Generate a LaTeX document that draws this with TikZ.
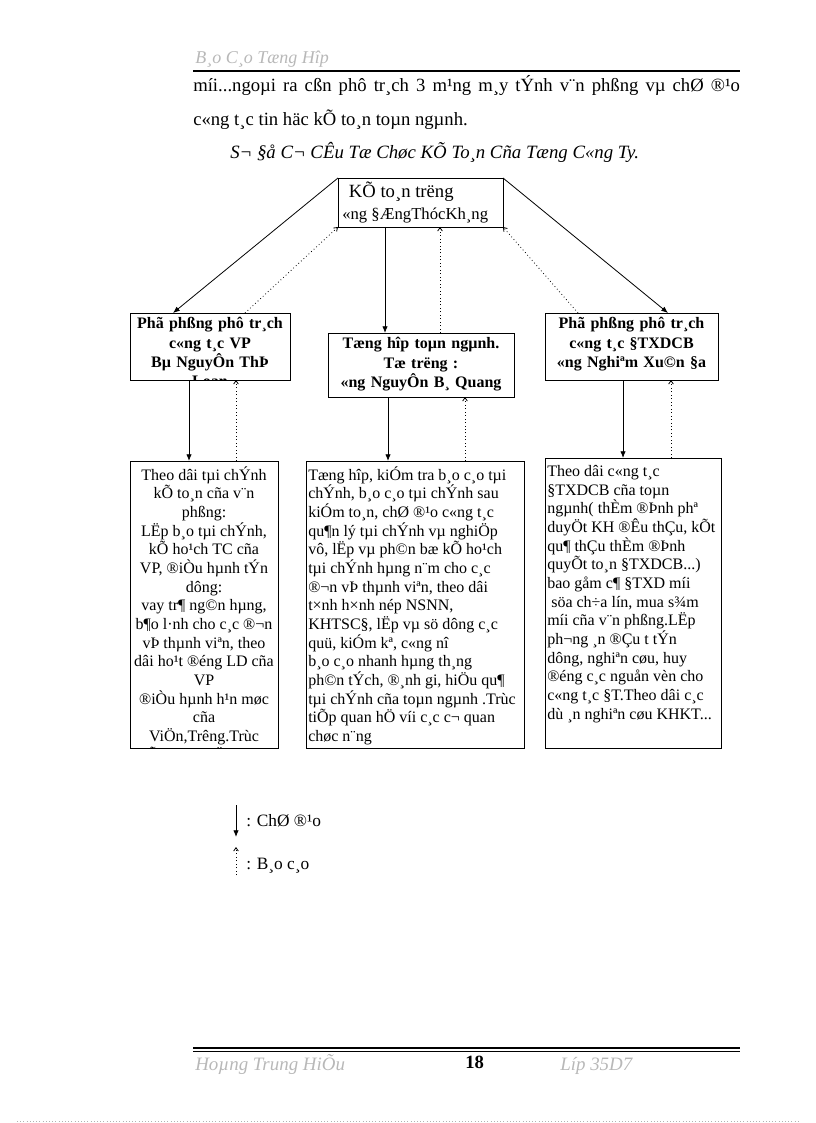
\documentclass[tikz,border=0pt]{standalone}
\usepackage{fontspec}
\setmainfont{Liberation Serif}
\usetikzlibrary{arrows.meta,calc}
\tikzset{
	box/.style={draw, line width=0.6pt, inner sep=0pt, outer sep=0pt},
	headtext/.style={font=\fontsize{12}{14.6}\selectfont\bfseries, align=center, inner sep=0pt, text width=#1},
	desctext/.style={font=\fontsize{12}{14}\selectfont, inner sep=0pt},
	pagetext/.style={font=\fontsize{14}{16}\selectfont, inner sep=0pt, anchor=base west},
	direct/.style={line width=0.6pt, -{Latex[length=5pt,width=4pt]}},
	report/.style={line width=0.6pt, dotted, -{Straight Barb[length=2.5pt,width=3.5pt]}}
}
\begin{document}
\begin{tikzpicture}[x=0.75pt, y=-0.75pt]
	\useasboundingbox (0,0) rectangle (816,1123);
	\node (title) [pagetext, font=\fontsize{13.5}{15}\selectfont\itshape, text=black!28] at (195,64) {B¸o C¸o Tæng Hîp};
	\draw[line width=1.5pt] (193,71) -- (740,71);
	\node (body1) [pagetext] at (193,92) {\makebox[410pt][s]{míi...ngoµi ra cßn phô tr¸ch 3 m¹ng m¸y tÝnh v¨n phßng vµ chØ ®¹o}};
	\node (body2) [pagetext] at (193,126) {c«ng t¸c tin häc kÕ to¸n toµn ngµnh.};
	\node (caption) [pagetext, font=\fontsize{14.1}{16}\selectfont\itshape] at (230,159) {S¬ §å C¬ CÊu Tæ Chøc KÕ To¸n Cña Tæng C«ng Ty.};

	\node (chief) [box, minimum width=123.75pt, minimum height=36.75pt] at (420.5,202.5) {};
	\node (chieftext) [inner sep=0pt, align=left, anchor=north west, font=\fontsize{12.5}{16}\selectfont] at ($(chief.north west)+(4,4)$) {\hspace*{5pt}{\fontsize{14}{16}\selectfont KÕ to¸n trëng}\\«ng §ÆngThócKh¸ng};

	\node (lmgr) [box, minimum width=120pt, minimum height=50.25pt] at (210,346.5) {};
	\node (mmgr) [box, minimum width=139.5pt, minimum height=48pt] at (421,365) {};
	\node (rmgr) [box, minimum width=129.75pt, minimum height=50.25pt] at (631.5,346.5) {};
	\begin{scope}
		\clip (lmgr.north west) rectangle (lmgr.south east);
		\node (lmgrtext) [headtext=118pt, anchor=north] at ($(lmgr.north)+(0,4)$) {Phã phßng phô tr¸ch\\c«ng t¸c VP\\Bµ NguyÔn ThÞ\\Loan};
	\end{scope}
	\node (mmgrtext) [headtext=137pt, anchor=north] at ($(mmgr.north)+(0,4)$) {Tæng hîp toµn ngµnh.\\Tæ trëng :\\«ng NguyÔn B¸ Quang};
	\node (rmgrtext) [headtext=127pt, anchor=north] at ($(rmgr.north)+(0,4)$) {Phã phßng phô tr¸ch\\c«ng t¸c §TXDCB\\«ng Nghiªm Xu©n §a};

	\node (ldesc) [box, minimum width=111pt, minimum height=215.25pt] at (204,604.5) {};
	\node (mdesc) [box, minimum width=163.5pt, minimum height=215.25pt] at (415,604.5) {};
	\node (rdesc) [box, minimum width=132pt, minimum height=217.5pt] at (633,603) {};
	\begin{scope}
		\clip (ldesc.north west) rectangle (ldesc.south east);
		\node (ldesctext) [desctext, align=center, anchor=north] at ($(ldesc.north)+(0,5)$) {Theo dâi tµi chÝnh\\kÕ to¸n cña v¨n\\phßng:\\LËp b¸o tµi chÝnh,\\kÕ ho¹ch TC cña\\VP, ®iÒu hµnh tÝn\\dông:\\vay tr¶ ng©n hµng,\\b¶o l·nh cho c¸c ®¬n\\vÞ thµnh viªn, theo\\dâi ho¹t ®éng LD cña\\VP\\®iÒu hµnh h¹n møc\\cña\\ViÖn,Trêng.Trùc\\tiÕp quan hÖ víi c¸c};
	\end{scope}
	\node (mdesctext) [desctext, align=left, anchor=north west] at ($(mdesc.north west)+(2,5)$) {Tæng hîp, kiÓm tra b¸o c¸o tµi\\chÝnh, b¸o c¸o tµi chÝnh sau\\kiÓm to¸n, chØ ®¹o c«ng t¸c\\qu¶n lý tµi chÝnh vµ nghiÖp\\vô, lËp vµ ph©n bæ kÕ ho¹ch\\tµi chÝnh hµng n¨m cho c¸c\\®¬n vÞ thµnh viªn, theo dâi\\t×nh h×nh nép NSNN,\\KHTSC§, lËp vµ sö dông c¸c\\quü, kiÓm kª, c«ng nî\\b¸o c¸o nhanh hµng th¸ng\\ph©n tÝch, ®¸nh gi, hiÖu qu¶\\tµi chÝnh cña toµn ngµnh .Trùc\\tiÕp quan hÖ víi c¸c c¬ quan\\chøc n¨ng};
	\node (rdesctext) [desctext, align=left, anchor=north west] at ($(rdesc.north west)+(2,7)$) {Theo dâi c«ng t¸c\\§TXDCB cña toµn\\ngµnh( thÈm ®Þnh phª\\duyÖt KH ®Êu thÇu, kÕt\\qu¶ thÇu thÈm ®Þnh\\quyÕt to¸n §TXDCB...)\\bao gåm c¶ §TXD míi\\\hspace*{3pt}söa ch÷a lín, mua s¾m\\míi cña v¨n phßng.LËp\\ph¬ng ¸n ®Çu t tÝn\\dông, nghiªn cøu, huy\\®éng c¸c nguån vèn cho\\c«ng t¸c §T.Theo dâi c¸c\\dù ¸n nghiªn cøu KHKT...};

	\draw[direct] (chief.north west) -- ($(lmgr.north west)+(43,0)$);
	\draw[report] ($(lmgr.north west)+(115,0)$) -- (chief.south west);
	\draw[direct] ($(chief.south west)+(47,0)$) -- ($(mmgr.north west)+(57,0)$);
	\draw[report] ($(mmgr.north west)+(112,0)$) -- ($(chief.south west)+(102,0)$);
	\draw[direct] (chief.north east) -- ($(rmgr.north west)+(123,0)$);
	\draw[report] ($(rmgr.north west)+(33,0)$) -- (chief.south east);

	\draw[direct] ($(lmgr.south west)+(59,0)$) -- ($(ldesc.north west)+(59,0)$);
	\draw[report] ($(ldesc.north west)+(106,0)$) -- ($(lmgr.south west)+(106,0)$);
	\draw[direct] ($(mmgr.south west)+(60,0)$) -- ($(mdesc.north west)+(82,0)$);
	\draw[report] ($(mdesc.north west)+(159,0)$) -- ($(mmgr.south west)+(137,0)$);
	\draw[direct] ($(rmgr.south west)+(78,0)$) -- ($(rdesc.north west)+(78,0)$);
	\draw[report] ($(rdesc.north west)+(126,0)$) -- ($(rmgr.south west)+(126,0)$);

	\coordinate (keyatop) at (236,805);
	\coordinate (keyabot) at (236,837);
	\coordinate (keybtop) at (236,847);
	\coordinate (keybbot) at (236,875);
	\draw[direct] (keyatop) -- (keyabot);
	\draw[report] (keybbot) -- (keybtop);
	\node (keya) [pagetext, font=\fontsize{13}{15}\selectfont] at (246,826) {: ChØ ®¹o};
	\node (keyb) [pagetext, font=\fontsize{13}{15}\selectfont] at (246,869) {: B¸o c¸o};

	\draw[line width=1pt] (193,1048) -- (740,1048);
	\draw[line width=0.5pt] (193,1051.5) -- (740,1051.5);
	\node (author) [pagetext, font=\fontsize{14.2}{16}\selectfont\itshape, text=black!28] at (195,1070) {Hoµng Trung HiÕu};
	\node (pagenum) [pagetext, font=\fontsize{14}{16}\selectfont\bfseries] at (465,1068) {18};
	\node (class) [pagetext, font=\fontsize{14.2}{16}\selectfont\itshape, text=black!28] at (560,1070) {Líp 35D7};
	\draw[black!30, dotted] (17,1121) -- (800,1121);
\end{tikzpicture}
\end{document}
